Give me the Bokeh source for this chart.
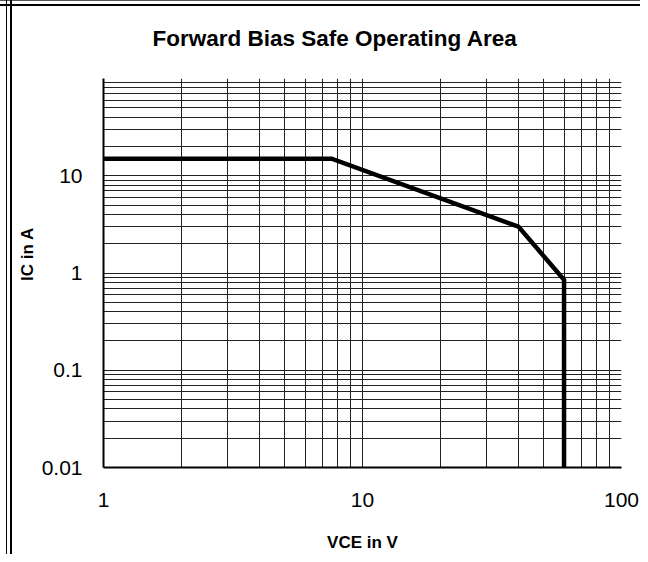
from bokeh.plotting import figure
from bokeh.models import FixedTicker
from bokeh.embed import file_html
from bokeh.resources import INLINE

# Data
vce = [1, 7.6, 40, 60, 60]
ic = [15, 15, 3, 0.85, 0.01]

x_major = [1, 10, 100]
x_minor = [2, 3, 4, 5, 6, 7, 8, 9, 20, 30, 40, 50, 60, 70, 80, 90]
y_major = [0.01, 0.1, 1, 10]
y_minor = [0.02, 0.03, 0.04, 0.05, 0.06, 0.07, 0.08, 0.09,
           0.2, 0.3, 0.4, 0.5, 0.6, 0.7, 0.8, 0.9,
           2, 3, 4, 5, 6, 7, 8, 9,
           20, 30, 40, 50, 60, 70, 80, 90]
x_labels = {1: "1", 10: "10", 100: "100"}
y_labels = {0.01: "0.01", 0.1: "0.1", 1: "1", 10: "10"}

FONT = "Liberation Sans"
GRID = "#222222"

p = figure(width=640, height=554, x_axis_type="log", y_axis_type="log",
           x_range=(1, 100), y_range=(0.01, 100),
           output_backend="svg", toolbar_location=None,
           title="Forward Bias Safe Operating Area",
           min_border_left=103, min_border_right=19,
           min_border_top=77, min_border_bottom=85)

p.outline_line_color = None
p.background_fill_color = "white"
p.border_fill_color = None
p.styles = {
    "background": (
        "linear-gradient(to right, transparent 6px, black 6px, black 7.5px, "
        "transparent 7.5px, transparent 10px, black 10px, black 12px, transparent 12px), "
        "linear-gradient(to bottom, #555 0px, #555 1px, transparent 1px, "
        "transparent 4px, black 4px, black 6px, transparent 6px), white"
    )
}

p.title.text_font = FONT
p.title.text_font_size = "22.5px"
p.title.text_font_style = "bold"
p.title.text_color = "black"
p.title.align = "left"
p.title.offset = 49
p.title.standoff = 51
p.title.vertical_align = "top"

for ax in (p.xaxis[0], p.yaxis[0]):
    ax.axis_line_color = "black"
    ax.axis_line_width = 2
    ax.major_tick_line_color = None
    ax.minor_tick_line_color = None
    ax.major_label_text_font = FONT
    ax.major_label_text_font_size = "21px"
    ax.major_label_text_color = "black"
    ax.axis_label_text_font = FONT
    ax.axis_label_text_font_size = "17px"
    ax.axis_label_text_font_style = "bold"
    ax.axis_label_text_color = "black"

p.xaxis[0].ticker = FixedTicker(ticks=x_major, minor_ticks=x_minor)
p.yaxis[0].ticker = FixedTicker(ticks=y_major, minor_ticks=y_minor)
p.xaxis[0].major_label_overrides = x_labels
p.yaxis[0].major_label_overrides = y_labels
p.xaxis[0].major_label_standoff = 19
p.yaxis[0].major_label_standoff = 15
p.xaxis[0].axis_label = "VCE in V"
p.xaxis[0].axis_label_standoff = 23
p.yaxis[0].axis_label = "\u00a0" * 8 + "IC in A"
p.yaxis[0].axis_label_standoff = 2

for g in (p.xgrid[0], p.ygrid[0]):
    g.grid_line_color = GRID
    g.grid_line_width = 1
    g.minor_grid_line_color = GRID
    g.minor_grid_line_width = 1

p.line(vce, ic, line_color="black", line_width=4.5, line_join="miter")

open("out.html", "w").write(file_html(p, INLINE))
